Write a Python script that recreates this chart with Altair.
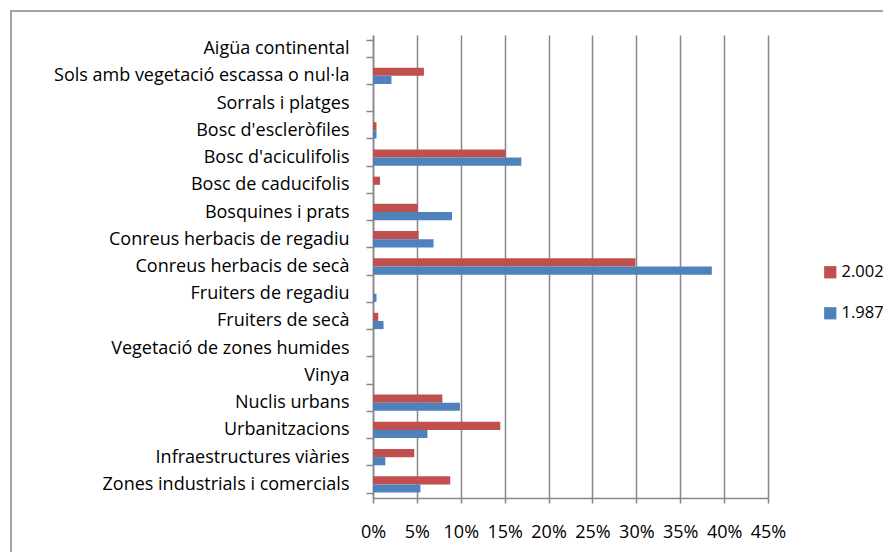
import altair as alt
import pandas as pd

categories = [
    "Aigüa continental",
    "Sols amb  vegetació escassa o nul·la",
    "Sorrals i platges",
    "Bosc d'escleròfiles",
    "Bosc d'aciculifolis",
    "Bosc de caducifolis",
    "Bosquines i prats",
    "Conreus herbacis de regadiu",
    "Conreus herbacis de secà",
    "Fruiters de regadiu",
    "Fruiters de secà",
    "Vegetació de zones humides",
    "Vinya",
    "Nuclis urbans",
    "Urbanitzacions",
    "Infraestructures viàries",
    "Zones industrials i comercials",
]
series_names = ["2.002", "1.987"]
values_2002 = [0.0, 5.8, 0.0, 0.4, 15.1, 0.8, 5.1, 5.2, 29.9, 0.0, 0.6, 0.0, 0.0, 7.9, 14.5, 4.7, 8.8]
values_1987 = [0.0, 2.1, 0.0, 0.4, 16.9, 0.0, 9.0, 6.9, 38.6, 0.4, 1.2, 0.0, 0.0, 9.9, 6.2, 1.4, 5.4]
x_ticks = [0, 0.05, 0.10, 0.15, 0.20, 0.25, 0.30, 0.35, 0.40, 0.45]

rows = []
for c, a, b in zip(categories, values_2002, values_1987):
    rows.append({"cat": c, "year": series_names[0], "value": a / 100})
    rows.append({"cat": c, "year": series_names[1], "value": b / 100})
df = pd.DataFrame(rows)

FONT = "Open Sans"
GRAY = "#878787"

bars = alt.Chart(df).mark_bar().encode(
    x=alt.X("value:Q",
            scale=alt.Scale(domain=[0, 0.45], nice=False, zero=True),
            axis=alt.Axis(values=x_ticks, format=".0%", title=None, grid=True,
                          gridColor=GRAY, gridWidth=1.5, domainColor=GRAY, domainWidth=1.5,
                          tickColor=GRAY, tickWidth=1.5, tickSize=5, labelPadding=20,
                          labelFlush=False, labelOverlap=False,
                          labelFont=FONT, labelFontSize=18, labelColor="black")),
    y=alt.Y("cat:N", sort=categories,
            scale=alt.Scale(paddingInner=0.4, paddingOuter=0.2),
            axis=alt.Axis(title=None, grid=False, tickBand="extent", domainColor=GRAY,
                          domainWidth=1.5, tickColor=GRAY, tickWidth=1.5, tickSize=7,
                          labelPadding=17, labelFont=FONT, labelFontSize=18,
                          labelColor="black", labelLimit=400)),
    yOffset=alt.YOffset("year:N", sort=series_names),
    color=alt.Color("year:N", sort=series_names,
                    scale=alt.Scale(domain=series_names, range=["#C0504D", "#4F81BD"]),
                    legend=alt.Legend(title=None, orient="none", legendX=449, legendY=229,
                                      symbolType="square", symbolSize=150,
                                      symbolStrokeWidth=0, labelFont=FONT,
                                      labelFontSize=16.5, labelColor="black",
                                      rowPadding=24, labelOffset=3)),
)

frame = alt.Chart(alt.Data(values=[{"a": 1}])).mark_rect(
    filled=False, stroke=GRAY, strokeWidth=1.5
).encode(
    x=alt.value(-362), x2=alt.value(700), y=alt.value(-24), y2=alt.value(700)
)

chart = alt.layer(frame, bars).properties(
    width=395, height=463,
    autosize=alt.AutoSizeParams(type="none"),
    padding={"left": 365, "top": 27, "right": 115, "bottom": 54},
    background="white",
).configure_view(stroke=None)

chart.save("out.html", embed_options={"renderer": "svg", "actions": False})
